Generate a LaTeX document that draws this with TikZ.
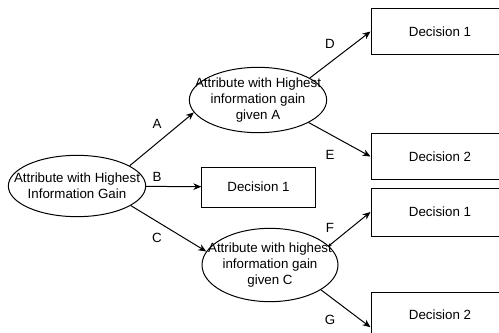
\documentclass[tikz,border=0pt]{standalone}
\usepackage{fontspec}
\setmainfont{Liberation Sans}
\usetikzlibrary{shapes.geometric,arrows.meta}

\begin{document}
\begin{tikzpicture}[x=0.75pt, y=-0.75pt,
	every node/.style={font=\fontsize{10}{11.7}\selectfont, align=center, inner sep=0pt},
	attr/.style={draw, ellipse, line width=0.75pt},
	leaf/.style={draw, rectangle, line width=0.75pt},
	arr/.style={line width=0.75pt, -{Stealth[length=6pt, width=5pt]}}]
	
	\useasboundingbox (0,0) rectangle (499,332);
	\clip (0,0) rectangle (499,332);
	
	\node [attr, minimum width=103pt, minimum height=46pt, label={center:{Attribute with Highest\\Information Gain}}]          (root)  at ( 77,186) {};
	\node [attr, minimum width=103pt, minimum height=49pt, label={center:{Attribute with Highest\\information gain\\given A}}] (attrA) at (258,100) {};
	\node [attr, minimum width=102pt, minimum height=55pt, label={center:{Attribute with highest\\information gain\\given C}}] (attrC) at (270,265) {};
	
	\node [leaf, minimum width=85pt,    minimum height=30pt]    (decB) at (258.5,187)   {Decision 1};
	\node [leaf, minimum width=103.5pt, minimum height=34pt]    (decD) at (440,31.5)    {Decision 1};
	\node [leaf, minimum width=103.5pt, minimum height=34pt]    (decE) at (440,156.5)   {Decision 2};
	\node [leaf, minimum width=103.5pt, minimum height=36pt]    (decF) at (440,212)     {Decision 1};
	\node [leaf, minimum width=103.5pt, minimum height=34.5pt]  (decG) at (440,315)     {Decision 2};
	
	\draw [arr]    (root.21)     --    (attrA.191);
	\draw [arr]    (root)        --    (decB);
	\draw [arr]    (root.-20)    --    (attrC.168);
	\draw [arr]    (attrA.23)    --    (decD.west);
	\draw [arr]    (attrA.-24)   --    (decE.west);
	\draw [arr]    (attrC.18)    --    (decF.west);
	\draw [arr]    (attrC.-26)   --    (decG.190);
	
	\node (lblA) at (157,124) {A};
	\node (lblB) at (157,177) {B};
	\node (lblC) at (157,238) {C};
	\node (lblD) at (330,44)  {D};
	\node (lblE) at (330,155) {E};
	\node (lblF) at (330,228) {F};
	\node (lblG) at (330,320) {G};
	
\end{tikzpicture}
\end{document}
